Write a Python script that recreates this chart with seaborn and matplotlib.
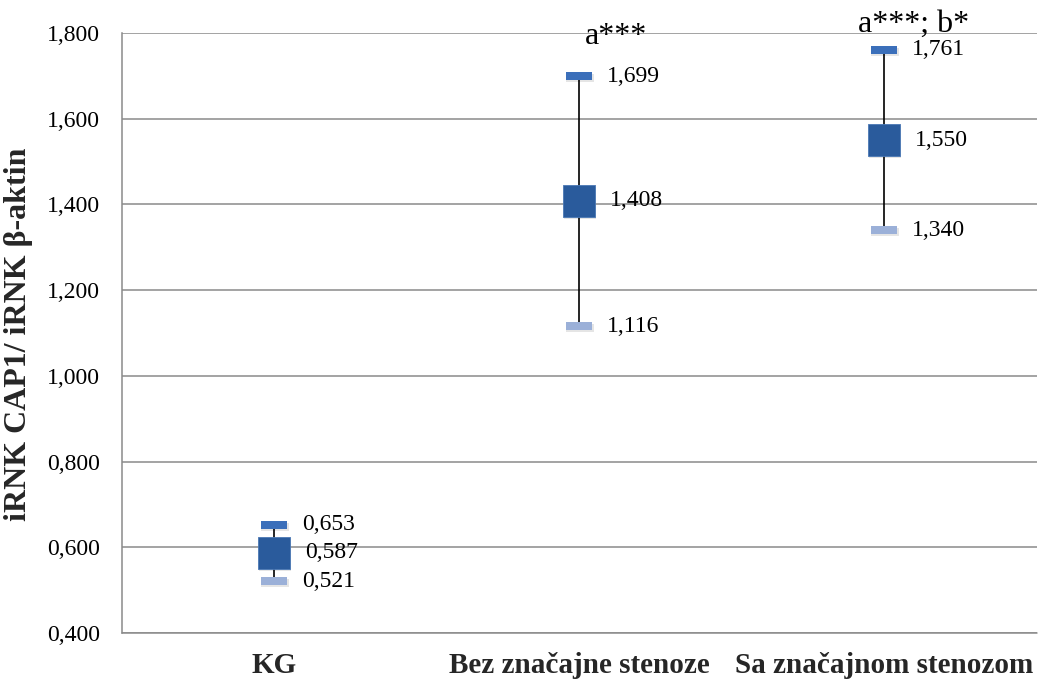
import matplotlib
matplotlib.use("Agg")
import matplotlib.pyplot as plt
import matplotlib.transforms as mtransforms
from matplotlib.ticker import FuncFormatter, MultipleLocator
import seaborn as sns

# ---- data ----
categories = ["KG", "Bez značajne stenoze", "Sa značajnom stenozom"]
high_vals = [0.653, 1.699, 1.761]
mean_vals = [0.587, 1.408, 1.550]
low_vals = [0.521, 1.116, 1.340]
significance = ["", "a***", "a***; b*"]
y_label = "iRNK CAP1/ iRNK β-aktin"

sns.set_theme(style="white")
plt.rcParams["font.family"] = ["Liberation Serif", "DejaVu Serif"]

fig = plt.figure(figsize=(10.39, 6.86), dpi=100)
ax = fig.add_axes([0.1174, 0.0773, 0.8806, 0.8746])

grid_col = "#8a8a8a"
c_high = "#3b6fba"
c_mean = "#2a5b9c"
c_low = "#9bb0d8"

# high-low lines
ax.vlines(categories, low_vals, high_vals, color="black", linewidth=1.2, zorder=2)

dash = [(-1, -0.27), (1, -0.27), (1, 0.27), (-1, 0.27), (-1, -0.27)]

# soft shadows
n_before = len(ax.collections)
for vals, marker, size in [(high_vals, dash, 380), (low_vals, dash, 380), (mean_vals, "s", 560)]:
    sns.scatterplot(x=categories, y=vals, marker=marker, s=size, color="#000000",
                    alpha=0.10, linewidth=0, ax=ax, zorder=2.5, legend=False)
shift = mtransforms.ScaledTranslation(1 / 100, -2 / 100, fig.dpi_scale_trans)
for coll in ax.collections[n_before:]:
    coll.set_offset_transform(coll.get_offset_transform() + shift)

sns.scatterplot(x=categories, y=high_vals, marker=dash, s=350, color=c_high,
                linewidth=0, ax=ax, zorder=3, legend=False)
sns.scatterplot(x=categories, y=low_vals, marker=dash, s=350, color=c_low,
                linewidth=0, ax=ax, zorder=3, legend=False)
sns.scatterplot(x=categories, y=mean_vals, marker="s", s=530, color=c_mean,
                edgecolor="#4a78b5", linewidth=0.6, ax=ax, zorder=4, legend=False)

fmt = lambda v: f"{v:.3f}".replace(".", ",")

for cat, h, m, l in zip(categories, high_vals, mean_vals, low_vals):
    ax.annotate(fmt(h), (cat, h), xytext=(20, 0), textcoords="offset points",
                ha="left", va="center", fontsize=17, color="black")
    ax.annotate(fmt(m), (cat, m), xytext=(22, 0), textcoords="offset points",
                ha="left", va="center", fontsize=17, color="black")
    ax.annotate(fmt(l), (cat, l), xytext=(20, 0), textcoords="offset points",
                ha="left", va="center", fontsize=17, color="black")

sig_offsets = [(0, 0), (26, -8), (21, 0.5)]
for cat, s, off in zip(categories, significance, sig_offsets):
    if s:
        ax.annotate(s, (cat, 1.8), xytext=off, textcoords="offset points",
                    ha="center", va="baseline", fontsize=23, color="black",
                    annotation_clip=False, zorder=5)

ax.set_xlim(-0.5, 2.5)
ax.set_ylim(0.4, 1.8)
ax.yaxis.set_major_locator(MultipleLocator(0.2))
ax.yaxis.set_major_formatter(FuncFormatter(lambda v, p: fmt(v)))
ax.grid(axis="y", color=grid_col, linewidth=1.1)
ax.grid(axis="x", visible=False)
ax.set_axisbelow(True)

for side in ["top", "right", "bottom"]:
    ax.spines[side].set_visible(False)
ax.spines["left"].set_color(grid_col)
ax.spines["left"].set_linewidth(1.1)
ax.axhline(0.4, color=grid_col, linewidth=1.1, zorder=1, clip_on=False)

ax.tick_params(axis="y", length=0, pad=16, labelsize=17, colors="black")
ax.tick_params(axis="x", length=0, pad=14, labelsize=21)
for t in ax.get_xticklabels():
    t.set_fontweight("bold")

ax.set_xlabel("")
ax.set_ylabel(y_label, fontsize=23, fontweight="bold")
ax.yaxis.set_label_coords(-0.097, 0.497)

fig.savefig("out.png", dpi=100, facecolor="white")
